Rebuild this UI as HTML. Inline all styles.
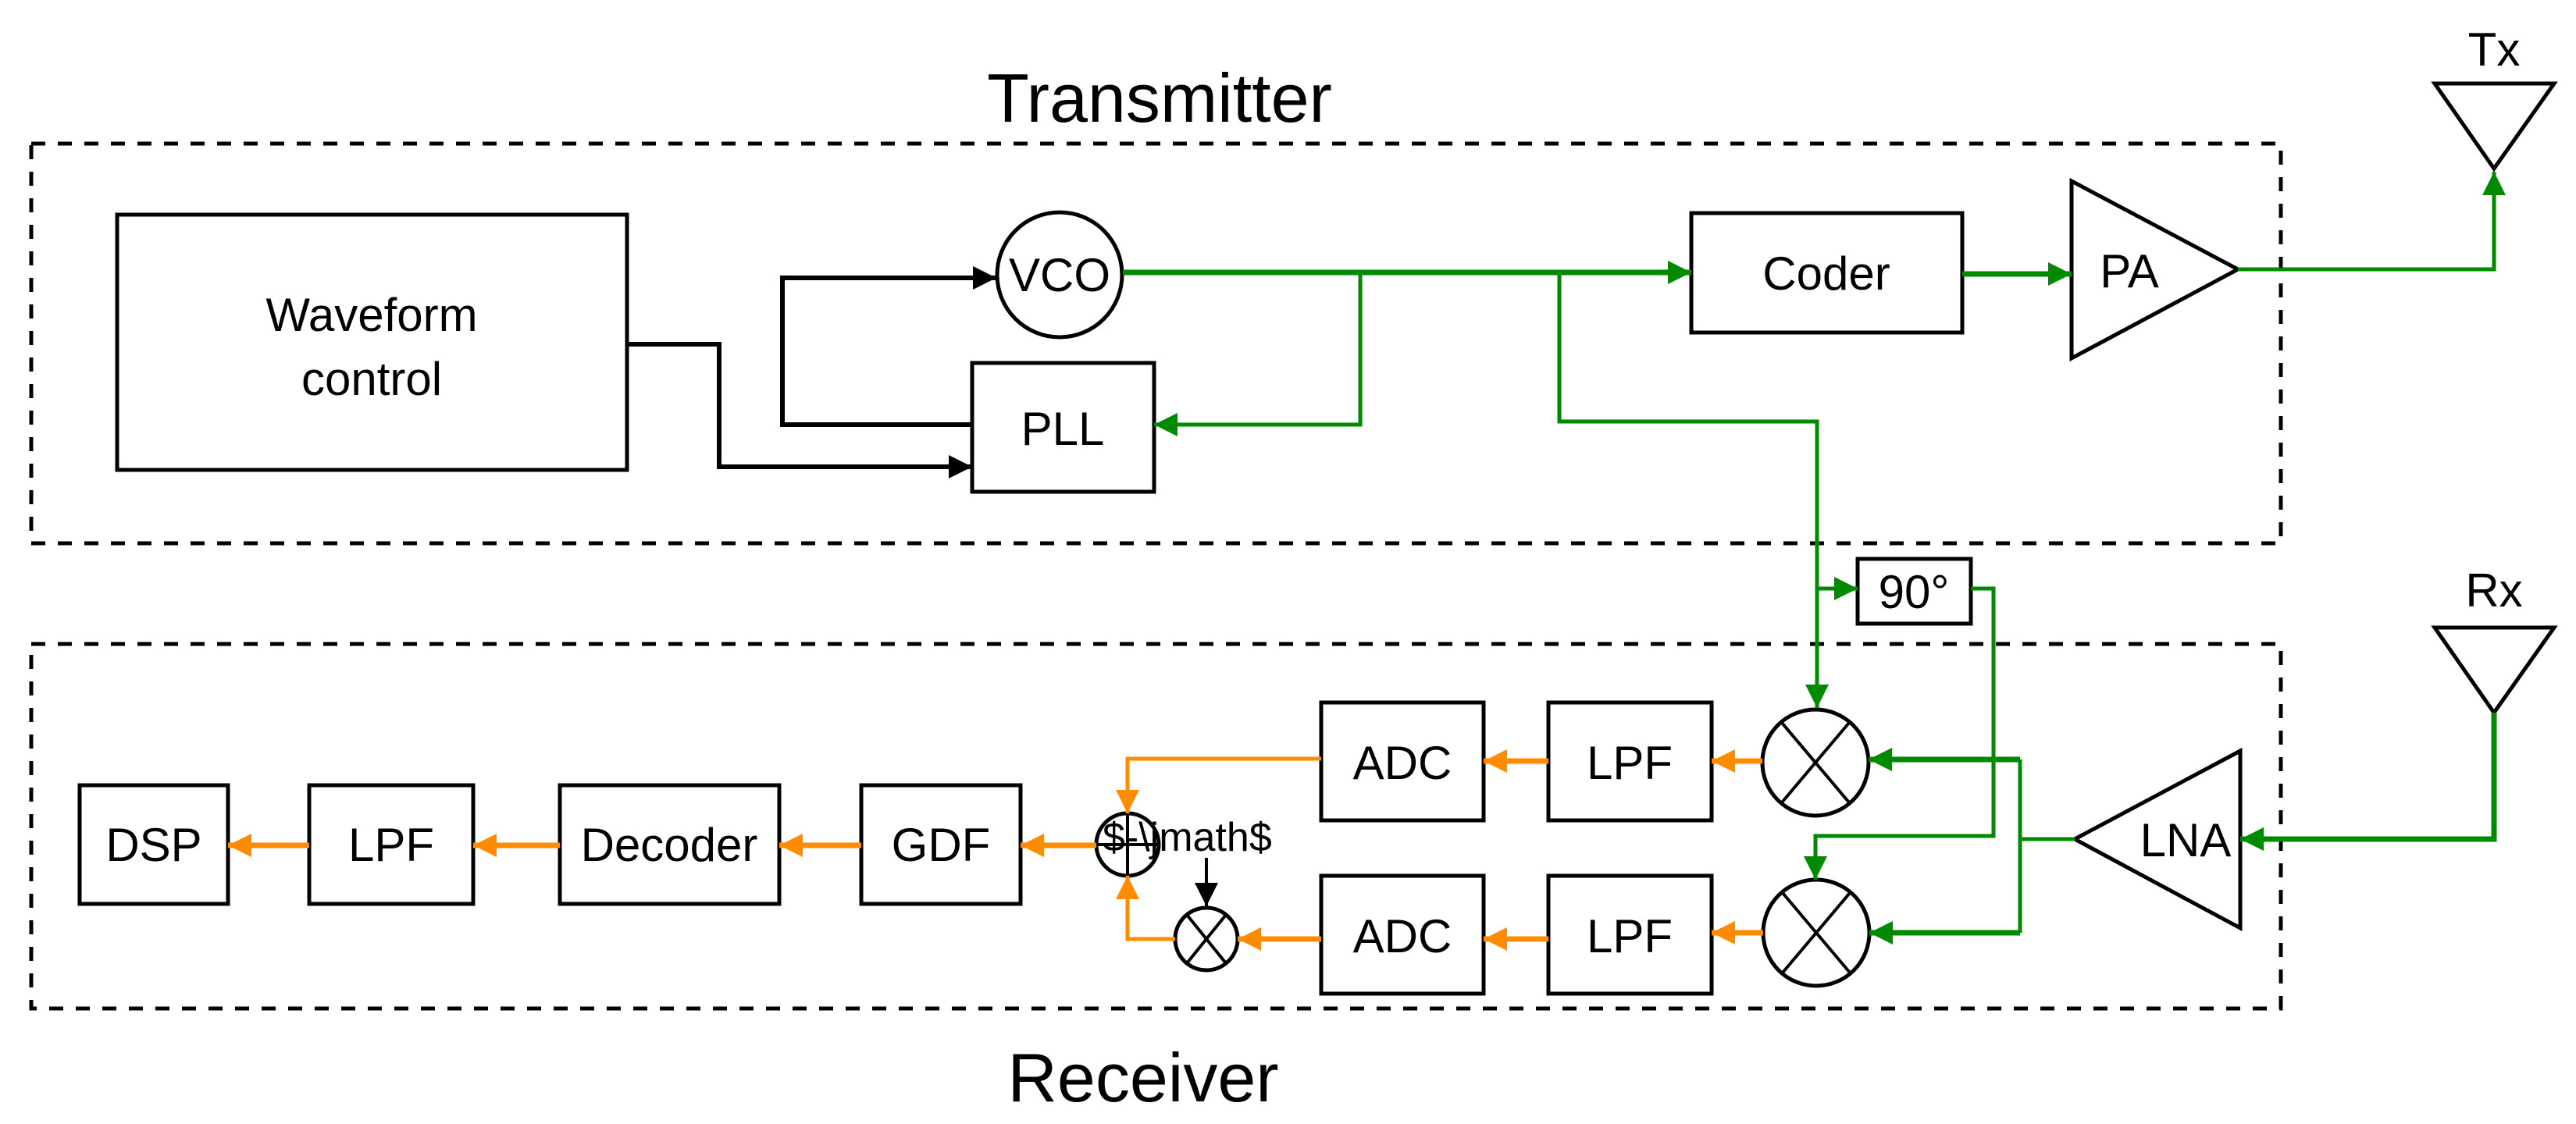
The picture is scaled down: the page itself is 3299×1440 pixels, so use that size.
<!DOCTYPE html>
<html><head><meta charset="utf-8"><style>
html,body{margin:0;padding:0;background:#fff}
svg{display:block}
text{font-family:"Liberation Sans",sans-serif;fill:#000}
</style></head><body>
<svg width="3299" height="1440" viewBox="0 0 3299 1440" xmlns="http://www.w3.org/2000/svg">
<defs>
<marker id="ag" markerUnits="userSpaceOnUse" markerWidth="34" markerHeight="34" refX="30" refY="15" orient="auto"><path d="M0,0 L30,15 L0,30 Z" fill="#008a00"/></marker>
<marker id="ao" markerUnits="userSpaceOnUse" markerWidth="34" markerHeight="34" refX="30" refY="15" orient="auto"><path d="M0,0 L30,15 L0,30 Z" fill="#ff8c00"/></marker>
<marker id="ak" markerUnits="userSpaceOnUse" markerWidth="34" markerHeight="34" refX="30" refY="15" orient="auto"><path d="M0,0 L30,15 L0,30 Z" fill="#000"/></marker>
</defs>

<!-- dashed boxes -->
<g fill="none" stroke="#000" stroke-width="5" stroke-dasharray="18 16">
<rect x="40" y="184" width="2881" height="512"/>
<rect x="40" y="825" width="2881" height="467"/>
</g>

<text x="1485" y="156" font-size="88" text-anchor="middle">Transmitter</text>
<text x="1464" y="1411" font-size="88" text-anchor="middle">Receiver</text>

<!-- blocks -->
<g fill="none" stroke="#000" stroke-width="5">
<rect x="150" y="275" width="653" height="327"/>
<circle cx="1357" cy="352" r="80"/>
<rect x="1245" y="465" width="233" height="165"/>
<rect x="2166" y="273" width="347" height="153"/>
<path d="M2653,232 L2866,345 L2653,459 Z"/>
<path d="M3118,107 L3271,107 L3194,216 Z"/>
<path d="M3118,804 L3271,804 L3194,913 Z"/>
<rect x="2379" y="716" width="145" height="83"/>
<path d="M2869,962 L2657,1075 L2869,1189 Z"/>
<circle cx="2325" cy="977" r="68"/>
<circle cx="2326" cy="1195" r="68"/>
<rect x="1983" y="900" width="209" height="151"/>
<rect x="1983" y="1122" width="209" height="151"/>
<rect x="1692" y="900" width="208" height="151"/>
<rect x="1692" y="1122" width="208" height="151"/>
<rect x="102" y="1006" width="190" height="152"/>
<rect x="396" y="1006" width="210" height="152"/>
<rect x="717" y="1006" width="281" height="152"/>
<rect x="1103" y="1006" width="204" height="152"/>
<circle cx="1444" cy="1082" r="40"/>
<circle cx="1545" cy="1203" r="40"/>
</g>
<g stroke="#000" stroke-width="4">
<path d="M2282,926 L2368,1028 M2368,926 L2282,1028"/>
<path d="M2283,1144 L2369,1246 M2369,1144 L2283,1246"/>
<path d="M1444,1042 L1444,1122 M1404,1082 L1484,1082"/>
<path d="M1520,1172 L1570,1234 M1570,1172 L1520,1234"/>
</g>

<!-- labels -->
<g font-size="60" text-anchor="middle">
<text x="476" y="424">Waveform</text>
<text x="476" y="506">control</text>
<text x="1357" y="373">VCO</text>
<text x="1361" y="570">PLL</text>
<text x="2339" y="371">Coder</text>
<text x="2727" y="368">PA</text>
<text x="3194" y="84">Tx</text>
<text x="3194" y="777">Rx</text>
<text x="2451" y="779">90°</text>
<text x="2799" y="1097">LNA</text>
<text x="2087" y="998">LPF</text>
<text x="2087" y="1220">LPF</text>
<text x="1796" y="998">ADC</text>
<text x="1796" y="1220">ADC</text>
<text x="197" y="1103">DSP</text>
<text x="501" y="1103">LPF</text>
<text x="857" y="1103">Decoder</text>
<text x="1205" y="1103">GDF</text>
</g>
<text x="1412" y="1090" font-size="52">$-\jmath$</text>

<!-- black connectors -->
<g fill="none" stroke="#000" stroke-width="6">
<path d="M1245,544 L1002,544 L1002,356 L1276,356" marker-end="url(#ak)"/>
<path d="M803,441 L921,441 L921,598 L1245,598" marker-end="url(#ak)"/>
<path d="M1545,1099 L1545,1161" stroke-width="4" marker-end="url(#ak)"/>
</g>

<!-- green connectors -->
<g fill="none" stroke="#008a00" stroke-width="5">
<path d="M1438,349 L2166,349" stroke-width="7" marker-end="url(#ag)"/>
<path d="M1742,349 L1742,544 L1478,544" marker-end="url(#ag)"/>
<path d="M1997,349 L1997,540 L2327,540 L2327,907" marker-end="url(#ag)"/>
<path d="M2327,754 L2379,754" marker-end="url(#ag)"/>
<path d="M2524,754 L2553,754 L2553,1071 L2325,1071 L2325,1127" marker-end="url(#ag)"/>
<path d="M2513,351 L2653,351" stroke-width="7" marker-end="url(#ag)"/>
<path d="M2866,345 L3194,345 L3194,220" marker-end="url(#ag)"/>
<path d="M3194,913 L3194,1075 L2869,1075" stroke-width="7" marker-end="url(#ag)"/>
<path d="M2657,1075 L2587,1075"/>
<path d="M2587,973 L2587,1195"/>
<path d="M2587,973 L2393,973" stroke-width="7" marker-end="url(#ag)"/>
<path d="M2587,1195 L2394,1195" stroke-width="7" marker-end="url(#ag)"/>
</g>

<!-- orange connectors -->
<g fill="none" stroke="#ff8c00" stroke-width="7">
<path d="M2257,975 L2192,975" marker-end="url(#ao)"/>
<path d="M1983,975 L1900,975" marker-end="url(#ao)"/>
<path d="M2258,1195 L2192,1195" marker-end="url(#ao)"/>
<path d="M1983,1203 L1900,1203" marker-end="url(#ao)"/>
<path d="M1692,972 L1444,972 L1444,1042" stroke-width="5" marker-end="url(#ao)"/>
<path d="M1692,1203 L1585,1203" marker-end="url(#ao)"/>
<path d="M1505,1203 L1444,1203 L1444,1122" stroke-width="5" marker-end="url(#ao)"/>
<path d="M1404,1083 L1307,1083" marker-end="url(#ao)"/>
<path d="M1103,1083 L998,1083" marker-end="url(#ao)"/>
<path d="M717,1083 L606,1083" marker-end="url(#ao)"/>
<path d="M396,1083 L292,1083" marker-end="url(#ao)"/>
</g>
</svg>
</body></html>
